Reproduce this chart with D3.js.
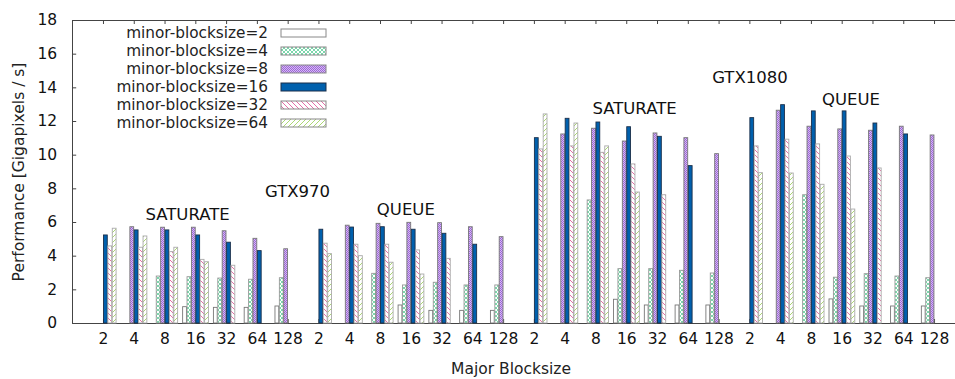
<!DOCTYPE html>
<html><head><meta charset="utf-8">
<script src="https://cdn.jsdelivr.net/npm/d3@7"></script>
<style>
body{margin:0;background:#fff;}
svg{display:block;font-family:"DejaVu Sans",Verdana,sans-serif;}
</style></head>
<body><svg id="c" width="955" height="379"></svg>
<script>
// ---------- data ----------
const groups = ["GTX970 SATURATE","GTX970 QUEUE","GTX1080 SATURATE","GTX1080 QUEUE"];
const majors = [2,4,8,16,32,64,128];
const minors = [2,4,8,16,32,64];
// values per minor blocksize, 28 entries (4 groups x 7 majors); null = no bar
const minor2 = [null,null,null,0.97,0.93,0.93,1.01, null,null,null,1.07,0.75,0.75,0.75,
                null,null,null,1.41,1.07,1.07,1.07, null,null,null,1.43,1.01,1.01,1.01];
const minor4 = [null,null,2.79,2.75,2.67,2.60,2.69, null,null,2.95,2.26,2.42,2.26,2.26,
                null,null,7.31,3.23,3.23,3.13,2.97, null,null,7.62,2.72,2.93,2.79,2.69];
const minor8 = [null,5.72,5.69,5.69,5.48,5.03,4.41, null,5.81,5.92,5.98,5.96,5.72,5.13,
                null,11.23,11.57,10.81,11.29,11.01,10.06, null,12.64,11.69,11.53,11.45,11.69,11.17];
const minor16 = [5.23,5.53,5.53,5.23,4.80,4.30,null, 5.57,5.70,5.72,5.57,5.33,4.68,null,
                 11.01,12.16,11.94,11.66,11.09,9.35,null, 12.20,12.97,12.60,12.60,11.88,11.23,null];
const minor32 = [4.58,4.50,4.24,3.78,3.43,null,null, 4.74,4.68,4.68,4.34,3.84,null,null,
                 10.34,10.52,10.14,9.45,7.62,null,null, 10.52,10.92,10.64,9.92,9.21,null,null];
const minor64 = [5.63,5.17,4.50,3.64,null,null,null, 4.12,4.00,3.61,2.91,null,null,null,
                 12.42,11.88,10.52,7.78,null,null,null, 8.93,8.91,8.24,6.77,null,null,null];
const series = [minor2, minor4, minor8, minor16, minor32, minor64];
const yTicks = [0,2,4,6,8,10,12,14,16,18];
const annotations = [
  {text:"SATURATE", slot:2.75, val:6.12},
  {text:"GTX970",   slot:6.32, val:7.5},
  {text:"QUEUE",    slot:9.84, val:6.42},
  {text:"SATURATE", slot:17.27, val:12.42},
  {text:"GTX1080",  slot:21.02, val:14.28},
  {text:"QUEUE",    slot:24.3, val:12.95}
];

// ---------- layout ----------
const svg = d3.select("#c");
const L = 72.2, T = 20, B = 323;
const nSlots = groups.length * majors.length;
const x = d3.scaleLinear().domain([-1, 28]).range([L, L + 29*30.78]);
const y = d3.scaleLinear().domain([0, 18]).range([B, T]);
const slotW = x(1) - x(0);
const barW = slotW / 7;

// ---------- patterns ----------
const defs = svg.append("defs");
function pat(id, w, h, build){
  const p = defs.append("pattern").attr("id",id).attr("width",w).attr("height",h)
    .attr("patternUnits","userSpaceOnUse");
  build(p);
}
pat("p4",4,4,p=>{
  p.append("rect").attr("width",4).attr("height",4).attr("fill","#fff");
  p.append("path").attr("d","M0,0L4,4M4,0L0,4").attr("stroke","#6dd3a3").attr("stroke-width",0.9);
});
pat("p8",2,2,p=>{
  p.append("rect").attr("width",2).attr("height",2).attr("fill","#d6bdf2");
  p.append("rect").attr("width",1).attr("height",1).attr("fill","#9d64d8");
  p.append("rect").attr("x",1).attr("y",1).attr("width",1).attr("height",1).attr("fill","#9d64d8");
});
pat("p32",5,5,p=>{
  p.append("rect").attr("width",5).attr("height",5).attr("fill","#fff");
  p.append("path").attr("d","M0,0L5,5M-1,4L1,6M4,-1L6,1").attr("stroke","#e0609c").attr("stroke-width",0.9);
});
pat("p64",5,5,p=>{
  p.append("rect").attr("width",5).attr("height",5).attr("fill","#fff");
  p.append("path").attr("d","M0,5L5,0M-1,1L1,-1M4,6L6,4").attr("stroke","#a3d266").attr("stroke-width",0.9);
});
const fills = ["#ffffff","url(#p4)","url(#p8)","#0060ad","url(#p32)","url(#p64)"];
const strokes = ["#777","#999","#777","#1b2f4a","#aaa","#aaa"];

// ---------- axes / frame ----------
const frame = svg.append("g").attr("stroke","#444").attr("stroke-width",1).attr("fill","none");
frame.append("line").attr("x1",L).attr("x2",955).attr("y1",T+0.5).attr("y2",T+0.5);
frame.append("line").attr("x1",L).attr("x2",955).attr("y1",B+0.5).attr("y2",B+0.5);
frame.append("line").attr("x1",L+0.3).attr("x2",L+0.3).attr("y1",T).attr("y2",B);

// y axis
const yAxis = d3.axisLeft(y).tickValues(yTicks).tickSizeInner(-4).tickSizeOuter(0).tickPadding(15);
const gy = svg.append("g").attr("transform",`translate(${L},0)`).call(yAxis);
gy.select(".domain").remove();
gy.selectAll("line").attr("stroke","#444");
gy.selectAll("text").attr("font-size",15.5).attr("fill","#111").attr("font-family","DejaVu Sans, sans-serif");

// x axis bottom
const slots = d3.range(nSlots);
const xAxis = d3.axisBottom(x).tickValues(slots).tickFormat(i=>majors[i % majors.length])
  .tickSizeInner(-4).tickSizeOuter(0).tickPadding(10);
const gx = svg.append("g").attr("transform",`translate(0,${B})`).call(xAxis);
gx.select(".domain").remove();
gx.selectAll("line").attr("stroke","#444");
gx.selectAll("text").attr("font-size",15.5).attr("fill","#111").attr("font-family","DejaVu Sans, sans-serif");

// mirrored top ticks
const gxt = svg.append("g").attr("transform",`translate(0,${T})`)
  .call(d3.axisTop(x).tickValues(slots).tickFormat("").tickSizeInner(-4).tickSizeOuter(0));
gxt.select(".domain").remove();
gxt.selectAll("line").attr("stroke","#444");

// ---------- bars ----------
series.forEach((vals, j) => {
  svg.append("g").selectAll("rect")
    .data(vals.map((v,i)=>({v,i})).filter(d=>d.v!=null))
    .join("rect")
    .attr("x", d => x(d.i) + (j-3)*barW + 0.5)
    .attr("y", d => y(d.v))
    .attr("width", barW - 0.6)
    .attr("height", d => y(0) - y(d.v))
    .attr("fill", fills[j])
    .attr("stroke", strokes[j])
    .attr("stroke-width", 0.9);
});

// ---------- annotations ----------
svg.append("g").selectAll("text").data(annotations).join("text")
  .attr("x", d=>x(d.slot)).attr("y", d=>y(d.val))
  .attr("text-anchor","middle").attr("font-size",16.5).attr("fill","#111")
  .text(d=>d.text);

// ---------- legend ----------
const lg = svg.append("g");
minors.forEach((m,j)=>{
  const cy = 32.5 + j*18;
  lg.append("text").attr("x",268).attr("y",cy).attr("dy","0.35em")
    .attr("text-anchor","end").attr("font-size",15.3).attr("fill","#222")
    .text("minor-blocksize=" + m);
  lg.append("rect").attr("x",281).attr("y",cy-3.5).attr("width",45).attr("height",8)
    .attr("fill",fills[j]).attr("stroke", j===3 ? "#1b2f4a" : "#888").attr("stroke-width",1);
});

// ---------- axis titles ----------
svg.append("text").attr("x",511).attr("y",374).attr("text-anchor","middle")
  .attr("font-size",15.5).attr("fill","#222").text("Major Blocksize");
svg.append("text").attr("transform","translate(24,172) rotate(-90)").attr("text-anchor","middle")
  .attr("font-size",15.5).attr("fill","#222").text("Performance [Gigapixels / s]");
</script>
</body></html>
